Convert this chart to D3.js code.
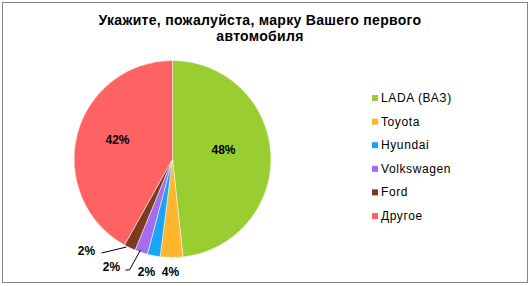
<!DOCTYPE html>
<html>
<head>
<meta charset="utf-8">
<script src="https://cdn.jsdelivr.net/npm/d3@7"></script>
<style>
  html, body { margin: 0; padding: 0; background: #fff; }
  svg { display: block; }
</style>
</head>
<body>
<svg id="chart" width="531" height="286"></svg>
<script>
const brands = ["LADA (ВАЗ)", "Toyota", "Hyundai", "Volkswagen", "Ford", "Другое"];
const shares = [48.3, 3.7, 2.1, 2.1, 1.9, 41.9];
const colors = ["#9acd32", "#ffb62e", "#1aa4f4", "#a56cf0", "#7b3b21", "#ff6262"];
const titleLines = ["Укажите, пожалуйста, марку Вашего первого", "автомобиля"];

const svg = d3.select("#chart");
const data = brands.map((name, i) => ({ name, value: shares[i], color: colors[i] }));

svg.append("rect")
  .attr("x", 2.5).attr("y", 2.5)
  .attr("width", 525).attr("height", 280)
  .attr("fill", "#fff")
  .attr("stroke", "#868686");

svg.append("g")
  .selectAll("text")
  .data(titleLines)
  .join("text")
  .attr("x", 260)
  .attr("y", (d, i) => 25 + i * 16)
  .attr("text-anchor", "middle")
  .attr("font-family", "Liberation Sans, Arial, sans-serif")
  .attr("font-weight", "bold")
  .attr("font-size", 14)
  .attr("letter-spacing", 0.3)
  .text((d) => d);

const cx = 172.5, cy = 159, r = 98.5;
const pie = d3.pie().value((d) => d.value).sort(null);
const arc = d3.arc().innerRadius(0).outerRadius(r);
const arcs = pie(data);

const g = svg.append("g").attr("transform", `translate(${cx},${cy})`);
g.selectAll("path")
  .data(arcs)
  .join("path")
  .attr("d", arc)
  .attr("fill", (d) => d.data.color)
  .attr("stroke", "#fff")
  .attr("stroke-width", 0.5);

const fmt = (v) => Math.round(v) + "%";
// label positions (relative to centre) for each slice
const labelPos = [
  { x: 51, y: -9 },
  { x: -2, y: 113 },
  { x: -26, y: 113 },
  { x: -61, y: 108 },
  { x: -86, y: 92 },
  { x: -55, y: -19 },
];
const leaders = [
  null, null, null,
  [[-47, 111], [-43, 111], [-32, 91]],
  [[-71, 94], [-46, 88]],
  null,
];

g.selectAll("polyline")
  .data(arcs.filter((d, i) => leaders[i]))
  .join("polyline")
  .attr("points", (d) => leaders[d.index].map((p) => p.join(",")).join(" "))
  .attr("fill", "none")
  .attr("stroke", "#000")
  .attr("stroke-width", 1);

g.selectAll("text.lbl")
  .data(arcs)
  .join("text")
  .attr("class", "lbl")
  .attr("x", (d) => labelPos[d.index].x)
  .attr("y", (d) => labelPos[d.index].y)
  .attr("text-anchor", "middle")
  .attr("dominant-baseline", "central")
  .attr("font-family", "Liberation Sans, Arial, sans-serif")
  .attr("font-weight", "bold")
  .attr("font-size", 12)
  .text((d) => fmt(d.data.value));

const legend = svg.append("g").attr("transform", "translate(372,98)");
const rows = legend.selectAll("g")
  .data(data)
  .join("g")
  .attr("transform", (d, i) => `translate(0,${i * 23.6})`);
rows.append("rect")
  .attr("x", 0).attr("y", -3)
  .attr("width", 6).attr("height", 6)
  .attr("fill", (d) => d.color);
rows.append("text")
  .attr("x", 9)
  .attr("y", 0)
  .attr("dominant-baseline", "central")
  .attr("font-family", "Liberation Sans, Arial, sans-serif")
  .attr("font-size", 12)
  .attr("letter-spacing", 0.6)
  .text((d) => d.name);
</script>
</body>
</html>
